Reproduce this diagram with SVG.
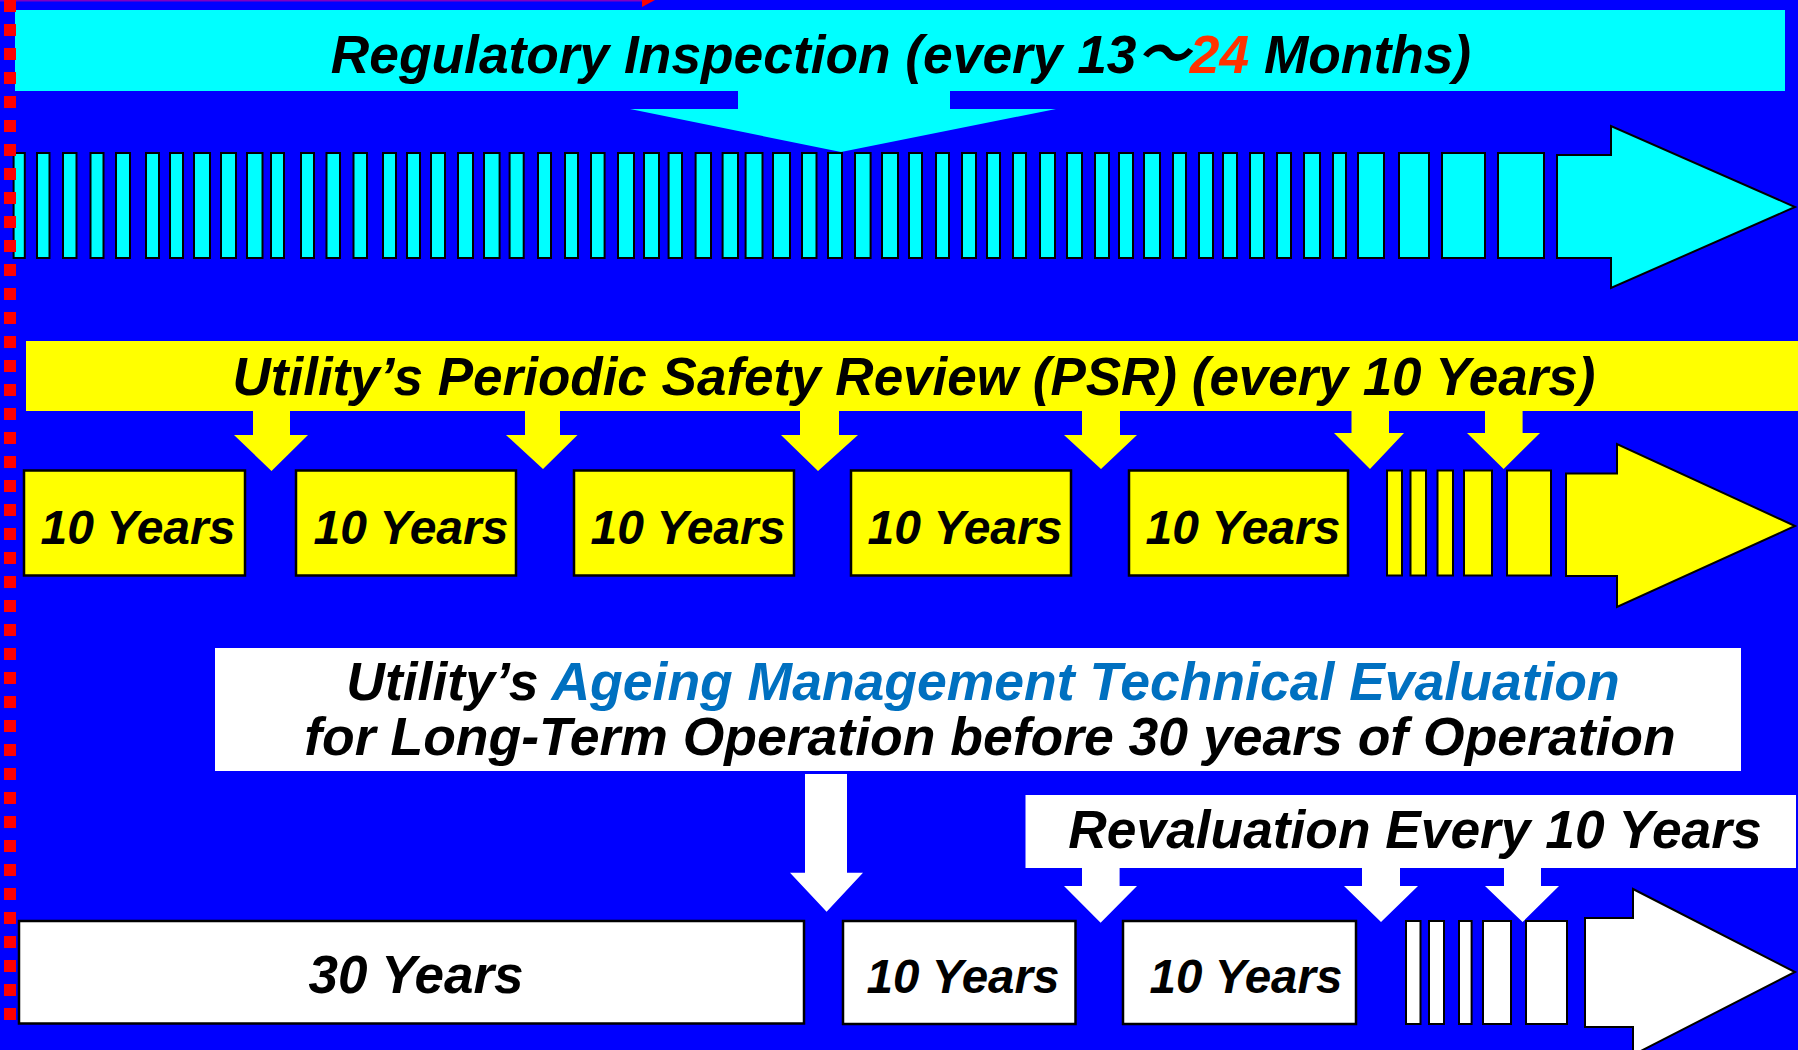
<svg xmlns="http://www.w3.org/2000/svg" width="1798" height="1050" viewBox="0 0 1798 1050">
<style>
.t{font-family:"Liberation Sans",Arial,"Noto Sans CJK JP",sans-serif;font-weight:bold;font-style:italic;fill:#000}
.cy{fill:#00FFFF;stroke:#000;stroke-width:2}
.ye{fill:#FFFF00;stroke:#000;stroke-width:2.5}
.wh{fill:#FFFFFF;stroke:#000;stroke-width:2.5}
.yb{fill:#FFFF00;stroke:#000;stroke-width:2}
.wb{fill:#FFFFFF;stroke:#000;stroke-width:2}
</style>
<rect x="0" y="0" width="1798" height="1050" fill="#0000FF"/>
<rect x="0" y="0" width="642" height="1.5" fill="#8000C0"/>
<polygon points="642,0 655,0 642,7" fill="#FF0000"/>

<!-- Section 1: Regulatory Inspection -->
<g id="regulatory-banner">
<rect x="15" y="10" width="1770" height="81" fill="#00FFFF"/>
<text class="t" x="901" y="73" font-size="53.3" text-anchor="middle">Regulatory Inspection (every 13<tspan font-family="Noto Sans CJK JP, sans-serif">～</tspan><tspan fill="#FF3300">24</tspan> Months)</text>
</g>
<g id="inspection-bars">
<rect class="cy" x="13.6" y="153" width="11.2" height="105"/>
<rect class="cy" x="37" y="153" width="12.5" height="105"/>
<rect class="cy" x="63" y="153" width="13.5" height="105"/>
<rect class="cy" x="90.5" y="153" width="13" height="105"/>
<rect class="cy" x="116" y="153" width="14" height="105"/>
<rect class="cy" x="146" y="153" width="13" height="105"/>
<rect class="cy" x="170" y="153" width="13" height="105"/>
<rect class="cy" x="194" y="153" width="16" height="105"/>
<rect class="cy" x="221" y="153" width="15" height="105"/>
<rect class="cy" x="247" y="153" width="15.5" height="105"/>
<rect class="cy" x="271" y="153" width="13" height="105"/>
<rect class="cy" x="301" y="153" width="13" height="105"/>
<rect class="cy" x="326.5" y="153" width="13.5" height="105"/>
<rect class="cy" x="353.5" y="153" width="13.5" height="105"/>
<rect class="cy" x="383" y="153" width="13" height="105"/>
<rect class="cy" x="407" y="153" width="13" height="105"/>
<rect class="cy" x="431" y="153" width="14" height="105"/>
<rect class="cy" x="458" y="153" width="15" height="105"/>
<rect class="cy" x="484" y="153" width="15.6" height="105"/>
<rect class="cy" x="509.6" y="153" width="14.1" height="105"/>
<rect class="cy" x="538" y="153" width="13" height="105"/>
<rect class="cy" x="565" y="153" width="13" height="105"/>
<rect class="cy" x="591" y="153" width="13.6" height="105"/>
<rect class="cy" x="618" y="153" width="16" height="105"/>
<rect class="cy" x="644" y="153" width="15" height="105"/>
<rect class="cy" x="668.6" y="153" width="13.4" height="105"/>
<rect class="cy" x="695.6" y="153" width="15.4" height="105"/>
<rect class="cy" x="722.6" y="153" width="15.4" height="105"/>
<rect class="cy" x="745.6" y="153" width="16.9" height="105"/>
<rect class="cy" x="773" y="153" width="17" height="105"/>
<rect class="cy" x="802" y="153" width="14.5" height="105"/>
<rect class="cy" x="828" y="153" width="14" height="105"/>
<rect class="cy" x="855" y="153" width="15.6" height="105"/>
<rect class="cy" x="882" y="153" width="16" height="105"/>
<rect class="cy" x="909" y="153" width="13" height="105"/>
<rect class="cy" x="936" y="153" width="13" height="105"/>
<rect class="cy" x="962" y="153" width="14" height="105"/>
<rect class="cy" x="987" y="153" width="13" height="105"/>
<rect class="cy" x="1013" y="153" width="13" height="105"/>
<rect class="cy" x="1040" y="153" width="15" height="105"/>
<rect class="cy" x="1067" y="153" width="15" height="105"/>
<rect class="cy" x="1095" y="153" width="14" height="105"/>
<rect class="cy" x="1119" y="153" width="14" height="105"/>
<rect class="cy" x="1144" y="153" width="16" height="105"/>
<rect class="cy" x="1173" y="153" width="13" height="105"/>
<rect class="cy" x="1199" y="153" width="14" height="105"/>
<rect class="cy" x="1223" y="153" width="14" height="105"/>
<rect class="cy" x="1250" y="153" width="14" height="105"/>
<rect class="cy" x="1277" y="153" width="14" height="105"/>
<rect class="cy" x="1304" y="153" width="16" height="105"/>
<rect class="cy" x="1333" y="153" width="13" height="105"/>
<rect class="cy" x="1358" y="153" width="26" height="105"/>
<rect class="cy" x="1399" y="153" width="30" height="105"/>
<rect class="cy" x="1442" y="153" width="43" height="105"/>
<rect class="cy" x="1498" y="153" width="46" height="105"/>
</g>
<g id="inspection-timeline-arrow">
<polygon class="cy" points="1557,155 1611,155 1611,126 1795,207 1611,288 1611,258 1557,258"/>
</g>

<!-- Section 2: PSR -->
<g id="psr-banner">
<rect x="26" y="341" width="1772" height="70" fill="#FFFF00"/>
<text class="t" x="914" y="395" font-size="53" text-anchor="middle">Utility’s Periodic Safety Review (PSR) (every 10 Years)</text>
</g>
<g id="psr-box-1"><rect class="ye" x="24" y="470.5" width="221" height="105"/><text class="t" x="138" y="544" font-size="48" text-anchor="middle">10 Years</text></g>
<g id="psr-box-2"><rect class="ye" x="296" y="470.5" width="220" height="105"/><text class="t" x="411" y="544" font-size="48" text-anchor="middle">10 Years</text></g>
<g id="psr-box-3"><rect class="ye" x="574" y="470.5" width="220" height="105"/><text class="t" x="688" y="544" font-size="48" text-anchor="middle">10 Years</text></g>
<g id="psr-box-4"><rect class="ye" x="851" y="470.5" width="220" height="105"/><text class="t" x="965" y="544" font-size="48" text-anchor="middle">10 Years</text></g>
<g id="psr-box-5"><rect class="ye" x="1129" y="470.5" width="219" height="105"/><text class="t" x="1243" y="544" font-size="48" text-anchor="middle">10 Years</text></g>
<g id="psr-bars">
<rect class="yb" x="1387" y="470.5" width="15" height="105"/>
<rect class="yb" x="1410.5" y="470.5" width="15.5" height="105"/>
<rect class="yb" x="1437.5" y="470.5" width="15.5" height="105"/>
<rect class="yb" x="1464" y="470.5" width="28" height="105"/>
<rect class="yb" x="1507" y="470.5" width="44" height="105"/>
</g>
<g id="psr-timeline-arrow">
<polygon class="yb" points="1566,473.5 1617,473.5 1617,444 1795,526 1617,607 1617,576 1566,576"/>
</g>

<!-- Section 3: Ageing management -->
<g id="ageing-banner">
<rect x="215" y="648" width="1526" height="123" fill="#FFFFFF"/>
<text class="t" x="983" y="700" font-size="53.5" text-anchor="middle">Utility’s <tspan fill="#0070C0">Ageing Management Technical Evaluation</tspan></text>
<text class="t" x="990" y="755" font-size="53.5" text-anchor="middle">for Long-Term Operation before 30 years of Operation</text>
</g>
<g id="revaluation-banner">
<rect x="1025.5" y="795" width="770.5" height="73" fill="#FFFFFF"/>
<text class="t" x="1415" y="848" font-size="53.3" text-anchor="middle">Revaluation Every 10 Years</text>
</g>
<g id="box-30-years"><rect class="wh" x="19" y="921" width="785" height="102.5"/><text class="t" x="416" y="993" font-size="53" text-anchor="middle">30 Years</text></g>
<g id="box-lto-1"><rect class="wh" x="843" y="921" width="232.5" height="103"/><text class="t" x="963" y="993" font-size="47.5" text-anchor="middle">10 Years</text></g>
<g id="box-lto-2"><rect class="wh" x="1123" y="921" width="233" height="103"/><text class="t" x="1246" y="993" font-size="47.5" text-anchor="middle">10 Years</text></g>
<g id="lto-bars">
<rect class="wb" x="1406" y="921" width="14.5" height="103"/>
<rect class="wb" x="1429" y="921" width="15" height="103"/>
<rect class="wb" x="1459" y="921" width="12.6" height="103"/>
<rect class="wb" x="1483" y="921" width="28" height="103"/>
<rect class="wb" x="1526" y="921" width="41" height="103"/>
</g>
<g id="lto-timeline-arrow">
<polygon class="wb" points="1585,918 1633,918 1633,889 1795,972 1633,1055 1633,1027 1585,1027"/>
</g>

<!-- Connectors -->
<g id="connectors">
<polygon fill="#00FFFF" points="738,90 950,90 950,109 1056,109 841,152 630,109 738,109"/>
<polygon fill="#FFFF00" points="253,410 290,410 290,435 308,435 271.5,471 234,435 253,435"/>
<polygon fill="#FFFF00" points="525,410 560,410 560,435 577.5,435 543,469 506,435 525,435"/>
<polygon fill="#FFFF00" points="800,410 839,410 839,435 858,435 818,471 781,435 800,435"/>
<polygon fill="#FFFF00" points="1082,410 1120,410 1120,435 1137,435 1101,469 1064,435 1082,435"/>
<polygon fill="#FFFF00" points="1351.5,410 1389,410 1389,433 1404,433 1370,469 1334,433 1351.5,433"/>
<polygon fill="#FFFF00" points="1485,410 1522.6,410 1522.6,433 1540,433 1503.6,469 1467,433 1485,433"/>
<polygon fill="#FFFFFF" points="805,774 847,774 847,872.7 863,872.7 826.6,911.7 790,872.7 805,872.7"/>
<polygon fill="#FFFFFF" points="1082,867 1119.6,867 1119.6,886 1137,886 1100.6,922.7 1064,886 1082,886"/>
<polygon fill="#FFFFFF" points="1362,867 1400,867 1400,886 1418,886 1381,922 1344,886 1362,886"/>
<polygon fill="#FFFFFF" points="1504,867 1541,867 1541,886 1559,886 1522.6,922 1485,886 1504,886"/>
</g>

<line x1="10" y1="0" x2="10" y2="1020" stroke="#FF0000" stroke-width="12" stroke-dasharray="12 12"/>
</svg>
